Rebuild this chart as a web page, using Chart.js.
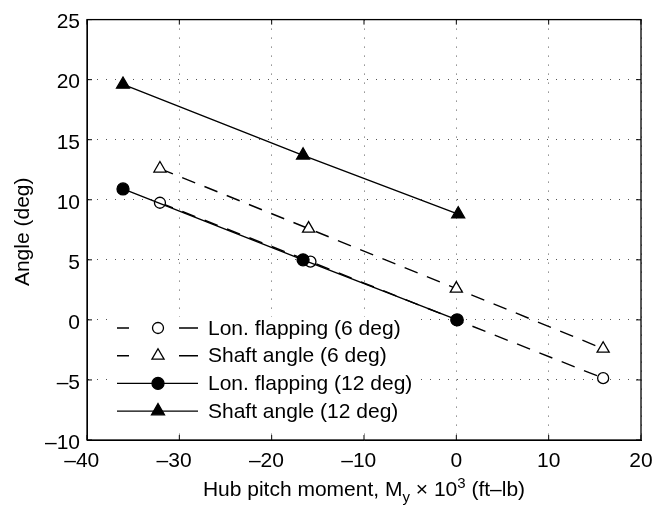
<!DOCTYPE html>
<html>
<head>
<meta charset="utf-8">
<script src="https://cdn.jsdelivr.net/npm/chart.js@4"></script>
<style>
  html, body { margin: 0; padding: 0; background: #fff; }
  #wrap { width: 667px; height: 521px; }
</style>
</head>
<body>
<div id="wrap"><canvas id="c"></canvas></div>
<script>
// values
const xTicks = [-40, -30, -20, -10, 0, 10, 20];
const yTicks = [-10, -5, 0, 5, 10, 15, 20, 25];

const lonFlap6X = [-32.1, -15.8, 0, 15.9];
const lonFlap6Y = [9.75, 4.85, 0, -4.85];
const shaft6X = [-32.1, -16.0, 0, 15.9];
const shaft6Y = [12.6, 7.6, 2.6, -2.4];
const lonFlap12X = [-36.1, -16.6, 0.1];
const lonFlap12Y = [10.9, 5.0, 0];
const shaft12X = [-36.1, -16.6, 0.2];
const shaft12Y = [19.6, 13.7, 8.8];

const labels = ["Lon. flapping (6 deg)", "Shaft angle (6 deg)", "Lon. flapping (12 deg)", "Shaft angle (12 deg)"];

const FONT = "Liberation Sans, Arial, Helvetica, sans-serif";
const pts = (xs, ys) => xs.map((x, i) => ({ x: x, y: ys[i] }));
const dash = [14, 10];

const datasets = [
  { label: labels[0], data: pts(lonFlap6X, lonFlap6Y), borderDash: dash, pointStyle: "circle", pointRadius: 5.5, pointBackgroundColor: "#fff", order: 2 },
  { label: labels[1], data: pts(shaft6X, shaft6Y), borderDash: dash, pointStyle: "triangle", pointRadius: 7, pointBackgroundColor: "#fff", order: 3 },
  { label: labels[2], data: pts(lonFlap12X, lonFlap12Y), borderDash: [], pointStyle: "circle", pointRadius: 6, pointBackgroundColor: "#000", order: 0 },
  { label: labels[3], data: pts(shaft12X, shaft12Y), borderDash: [], pointStyle: "triangle", pointRadius: 7.5, pointBackgroundColor: "#000", order: 1 }
].map(d => Object.assign({
  showLine: true, borderColor: "#000", borderWidth: 1.4,
  pointBorderColor: "#000", pointBorderWidth: 1.3, pointHoverRadius: 0
}, d));

const minus = v => String(v).replace("-", "\u2013");

function marker(ctx, style, r, x, y) {
  ctx.beginPath();
  if (style === "circle") {
    ctx.arc(x, y, r, 0, Math.PI * 2);
  } else {
    for (let k = 0; k < 3; k++) {
      const ang = k * 2 * Math.PI / 3;
      const px = x + Math.sin(ang) * r, py = y - Math.cos(ang) * r;
      if (k === 0) ctx.moveTo(px, py); else ctx.lineTo(px, py);
    }
    ctx.closePath();
  }
  ctx.fill();
  ctx.stroke();
}

// frame, inward ticks, titles, legend
const decor = {
  id: "decor",
  afterDatasetsDraw(chart) {
    const ctx = chart.ctx, a = chart.chartArea;
    const sx = chart.scales.x, sy = chart.scales.y;
    ctx.save();
    ctx.strokeStyle = "#000";
    ctx.lineWidth = 1.3;
    ctx.setLineDash([]);
    ctx.strokeRect(a.left, a.top, a.right - a.left, a.bottom - a.top);
    ctx.lineWidth = 1;
    ctx.beginPath();
    xTicks.forEach(t => {
      const px = sx.getPixelForValue(t);
      ctx.moveTo(px, a.bottom); ctx.lineTo(px, a.bottom - 5);
      ctx.moveTo(px, a.top); ctx.lineTo(px, a.top + 5);
    });
    yTicks.forEach(t => {
      const py = sy.getPixelForValue(t);
      ctx.moveTo(a.left, py); ctx.lineTo(a.left + 5, py);
      ctx.moveTo(a.right, py); ctx.lineTo(a.right - 5, py);
    });
    ctx.stroke();

    // legend (white box, no border)
    const lx0 = 117, lx1 = 198, mx = 158, tx = 208, ly0 = 328, step = 27.7;
    ctx.fillStyle = "#fff";
    ctx.fillRect(113, 317, 302, 111);
    ctx.font = "21px " + FONT;
    ctx.textBaseline = "middle";
    chart.data.datasets.forEach((d, i) => {
      const y = ly0 + i * step;
      ctx.strokeStyle = "#000";
      ctx.lineWidth = d.borderWidth;
      ctx.beginPath();
      if (d.borderDash.length) {
        ctx.moveTo(lx0, y); ctx.lineTo(lx0 + 12, y);
        ctx.moveTo(mx + 21, y); ctx.lineTo(lx1, y);
      } else {
        ctx.moveTo(lx0, y); ctx.lineTo(lx1, y);
      }
      ctx.stroke();
      ctx.fillStyle = d.pointBackgroundColor;
      ctx.lineWidth = d.pointBorderWidth;
      marker(ctx, d.pointStyle, d.pointRadius, mx, y);
      ctx.fillStyle = "#000";
      ctx.textAlign = "left";
      ctx.fillText(d.label, tx, y + 1);
    });

    // y title
    ctx.fillStyle = "#000";
    ctx.font = "21px " + FONT;
    ctx.save();
    ctx.translate(23, (a.top + a.bottom) / 2 + 2);
    ctx.rotate(-Math.PI / 2);
    ctx.textAlign = "center";
    ctx.textBaseline = "middle";
    ctx.fillText("Angle (deg)", 0, 0);
    ctx.restore();

    // x title with sub/superscript
    const parts = [
      { t: "Hub pitch moment, M", s: 21, dy: 0 },
      { t: "y", s: 15, dy: 6 },
      { t: " \u00d7 10", s: 21, dy: 0 },
      { t: "3", s: 15, dy: -8 },
      { t: " (ft\u2013lb)", s: 21, dy: 0 }
    ];
    let w = 0;
    parts.forEach(p => { ctx.font = p.s + "px " + FONT; p.w = ctx.measureText(p.t).width; w += p.w; });
    let x = (a.left + a.right) / 2 - w / 2;
    ctx.textAlign = "left";
    ctx.textBaseline = "alphabetic";
    parts.forEach(p => { ctx.font = p.s + "px " + FONT; ctx.fillText(p.t, x, 496 + p.dy); x += p.w; });
    ctx.restore();
  }
};

new Chart(document.getElementById("c"), {
  type: "scatter",
  data: { datasets: datasets },
  plugins: [decor],
  options: {
    responsive: true, maintainAspectRatio: false, animation: false,
    layout: { padding: { top: 10, right: 26, left: 0, bottom: 0 } },
    plugins: { legend: { display: false }, tooltip: { enabled: false } },
    scales: {
      x: {
        type: "linear", min: -40, max: 20,
        afterFit: s => { s.height = 81; },
        afterBuildTicks: s => { s.ticks = xTicks.map(v => ({ value: v })); },
        ticks: { color: "#000", padding: 9, font: { family: FONT, size: 21 }, maxRotation: 0,
          callback: v => v < 0 ? minus(v) + "\u2002" : minus(v) },
        grid: { color: "#555", lineWidth: 1, drawTicks: false },
        border: { display: true, color: "#000", dash: [1, 8] }
      },
      y: {
        type: "linear", min: -10, max: 25,
        afterFit: s => { s.width = 87; },
        afterBuildTicks: s => { s.ticks = yTicks.map(v => ({ value: v })); },
        ticks: { color: "#000", padding: 7, labelOffset: 3, font: { family: FONT, size: 21 }, callback: v => minus(v) },
        grid: { color: "#555", lineWidth: 1, drawTicks: false },
        border: { display: true, color: "#000", dash: [1, 8] }
      }
    }
  }
});
</script>
</body>
</html>
